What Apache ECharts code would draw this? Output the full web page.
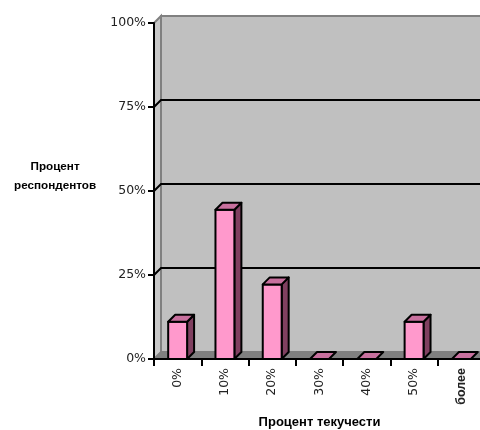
<!DOCTYPE html>
<html>
<head>
<meta charset="utf-8">
<style>
  html, body { margin: 0; padding: 0; background: #fff; }
  #chart { width: 480px; height: 430px; }
</style>
<script src="https://cdn.jsdelivr.net/npm/echarts@6/dist/echarts.min.js"></script>
</head>
<body>
<div id="chart"></div>
<script>
// Turnover rate buckets and share of respondents (%)
var categories = ['0%', '10%', '20%', '30%', '40%', '50%', 'более'];
var respondents = [11.1, 44.4, 22.2, 0, 0, 11.1, 0];
var yTicks = [0, 25, 50, 75, 100];

// depth of the pseudo-3D box (pixels)
var DX = 7, DY = 7;
var TICK_FONT = 'DejaVu Sans, Verdana, sans-serif';
var TITLE_FONT = 'Liberation Sans, Arial, sans-serif';

var chart = echarts.init(document.getElementById('chart'));

// Walls, floor and back-wall gridlines of the 3D box
function renderWalls(params, api) {
  var bw = api.size([1, 0])[0];
  var left = api.coord([0, 0])[0] - bw / 2;
  var right = api.coord([categories.length - 1, 0])[0] + bw / 2;
  var y0 = api.coord([0, 0])[1];
  var yTop = api.coord([0, 100])[1];
  var children = [];
  // back wall
  children.push({
    type: 'polygon',
    shape: { points: [[left + DX, yTop - DY], [right + DX, yTop - DY], [right + DX, y0 - DY], [left + DX, y0 - DY]] },
    style: { fill: '#c0c0c0', stroke: '#808080', lineWidth: 2 }
  });
  // left side wall
  children.push({
    type: 'polygon',
    shape: { points: [[left, y0], [left, yTop], [left + DX, yTop - DY], [left + DX, y0 - DY]] },
    style: { fill: '#c8c8c8', stroke: '#808080', lineWidth: 2 }
  });
  // floor
  children.push({
    type: 'polygon',
    shape: { points: [[left, y0], [right, y0], [right + DX, y0 - DY], [left + DX, y0 - DY]] },
    style: { fill: '#808080', stroke: '#808080', lineWidth: 1 }
  });
  // gridlines across side and back walls
  yTicks.forEach(function (v) {
    if (v === 0 || v === 100) return;
    var y = api.coord([0, v])[1];
    children.push({
      type: 'polyline',
      shape: { points: [[left, y], [left + DX, y - DY], [right + DX, y - DY]] },
      style: { fill: null, stroke: '#000', lineWidth: 2 }
    });
  });
  return { type: 'group', children: children };
}

// Pseudo-3D bar: front face, top face, side face
function renderBar(params, api) {
  var idx = api.value(0);
  var val = api.value(1);
  var bw = api.size([1, 0])[0] * 0.4;
  var base = api.coord([idx, 0]);
  var top = api.coord([idx, val]);
  var x1 = base[0] - bw / 2, x2 = base[0] + bw / 2;
  var yb = base[1], yt = top[1];
  var line = { stroke: '#000', lineWidth: 2, lineJoin: 'round' };
  var children = [];
  if (yb - yt > 0.5) {
    children.push({
      type: 'polygon',
      shape: { points: [[x2, yb], [x2, yt], [x2 + DX, yt - DY], [x2 + DX, yb - DY]] },
      style: Object.assign({ fill: '#804060' }, line)
    });
    children.push({
      type: 'polygon',
      shape: { points: [[x1, yb], [x2, yb], [x2, yt], [x1, yt]] },
      style: Object.assign({ fill: '#ff99cc' }, line)
    });
  }
  children.push({
    type: 'polygon',
    shape: { points: [[x1, yt], [x2, yt], [x2 + DX, yt - DY], [x1 + DX, yt - DY]] },
    style: Object.assign({ fill: '#c8709e' }, line)
  });
  return { type: 'group', children: children };
}

chart.setOption({
  animation: false,
  backgroundColor: '#ffffff',
  textStyle: { fontFamily: TICK_FONT },
  grid: { left: 154, top: 23, width: 331, height: 336, containLabel: false, outerBoundsMode: 'none' },
  xAxis: {
    type: 'category',
    z: 10,
    data: categories,
    boundaryGap: true,
    name: 'Процент текучести',
    nameLocation: 'middle',
    nameGap: 57,
    nameTextStyle: { fontSize: 13, fontWeight: 'bold', color: '#000', fontFamily: TITLE_FONT },
    axisLine: { show: true, lineStyle: { color: '#000', width: 2 } },
    axisTick: { show: true, length: 7, lineStyle: { color: '#000', width: 2 } },
    axisLabel: {
      rotate: 90,
      margin: 9,
      fontSize: 12.5,
      color: '#222',
      fontFamily: TICK_FONT,
      formatter: function (v) { return v === 'более' ? '{b|' + v + '}' : v; },
      rich: { b: { fontWeight: 'bold', fontSize: 12.5, color: '#222', fontFamily: TITLE_FONT } }
    },
    splitLine: { show: false }
  },
  yAxis: {
    type: 'value',
    z: 10,
    min: 0,
    max: 100,
    interval: 25,
    axisLine: { show: true, lineStyle: { color: '#000', width: 2 } },
    axisTick: { show: true, length: 6, lineStyle: { color: '#000', width: 2 } },
    axisLabel: { formatter: '{value}%', fontSize: 12.5, color: '#222', margin: 8, fontFamily: TICK_FONT },
    splitLine: { show: false }
  },
  graphic: [{
    type: 'text',
    left: 14,
    top: 157,
    style: {
      text: 'Процент\nреспондентов',
      fontSize: 11.7,
      fontWeight: 'bold',
      fill: '#000',
      textAlign: 'center',
      lineHeight: 19,
      fontFamily: TITLE_FONT
    }
  }],
  series: [
    {
      type: 'custom',
      z: 1,
      silent: true,
      renderItem: renderWalls,
      data: [[0, 0]]
    },
    {
      type: 'custom',
      z: 3,
      renderItem: renderBar,
      encode: { x: 0, y: 1 },
      data: respondents.map(function (v, i) { return [i, v]; })
    }
  ]
});
</script>
</body>
</html>
